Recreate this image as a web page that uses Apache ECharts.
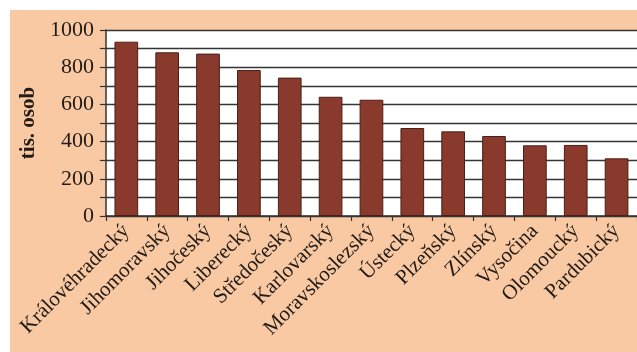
<!DOCTYPE html>
<html lang="cs">
<head>
    <meta charset="UTF-8">
    <title>tis. osob</title>
    <script src="https://cdn.jsdelivr.net/npm/echarts@6/dist/echarts.min.js"></script>
    <style>
        html, body { margin: 0; padding: 0; background: #fff; }
        #showbox { position: absolute; left: 10px; top: 10px; width: 627px; height: 342px; background: #f8c9a2; }
    </style>
</head>
<body>
<div id="showbox"></div>
<script type="text/javascript">
    var kraje = ['Královéhradecký', 'Jihomoravský', 'Jihočeský', 'Liberecký', 'Středočeský', 'Karlovarský',
        'Moravskoslezský', 'Ústecký', 'Plzeňský', 'Zlínský', 'Vysočina', 'Olomoucký', 'Pardubický'];
    var hodnoty = [937, 880, 873, 785, 744, 641, 625, 473, 455, 430, 380, 382, 310];
    var yTicks = [0, 200, 400, 600, 800, 1000];

    var chart = echarts.init(document.getElementById('showbox'));
    var serif = 'Liberation Serif';
    var ink = '#221b17';

    chart.setOption({
        animation: false,
        grid: {
            left: 95,
            top: 20,
            width: 537,
            height: 186,
            show: true,
            backgroundColor: '#ffffff',
            borderWidth: 0
        },
        xAxis: {
            type: 'category',
            data: kraje,
            axisLine: { lineStyle: { color: '#333', width: 1.5 } },
            axisTick: { show: true, length: 5, lineStyle: { color: '#333', width: 1.2 } },
            axisLabel: {
                rotate: 45,
                margin: 12,
                color: ink,
                fontFamily: serif,
                fontSize: 21
            }
        },
        yAxis: {
            type: 'value',
            min: 0,
            max: 1000,
            interval: 100,
            name: 'tis. osob',
            nameLocation: 'middle',
            nameRotate: 90,
            nameGap: 58,
            nameTextStyle: { color: ink, fontFamily: serif, fontSize: 21, fontWeight: 'bold' },
            axisLine: { show: true, lineStyle: { color: '#333', width: 1.5 } },
            axisTick: { show: true, length: 6, lineStyle: { color: '#333', width: 1.2 } },
            axisLabel: {
                margin: 12,
                color: ink,
                fontFamily: serif,
                fontSize: 22,
                formatter: function (v) { return yTicks.indexOf(v) >= 0 ? String(v) : ''; }
            },
            splitLine: { show: true, lineStyle: { color: '#353535', width: 1.3 } }
        },
        series: [{
            type: 'bar',
            data: hodnoty,
            barCategoryGap: '42%',
            itemStyle: { color: '#8a3a2c', borderColor: '#4a1f16', borderWidth: 1 }
        }]
    });
</script>
</body>
</html>
